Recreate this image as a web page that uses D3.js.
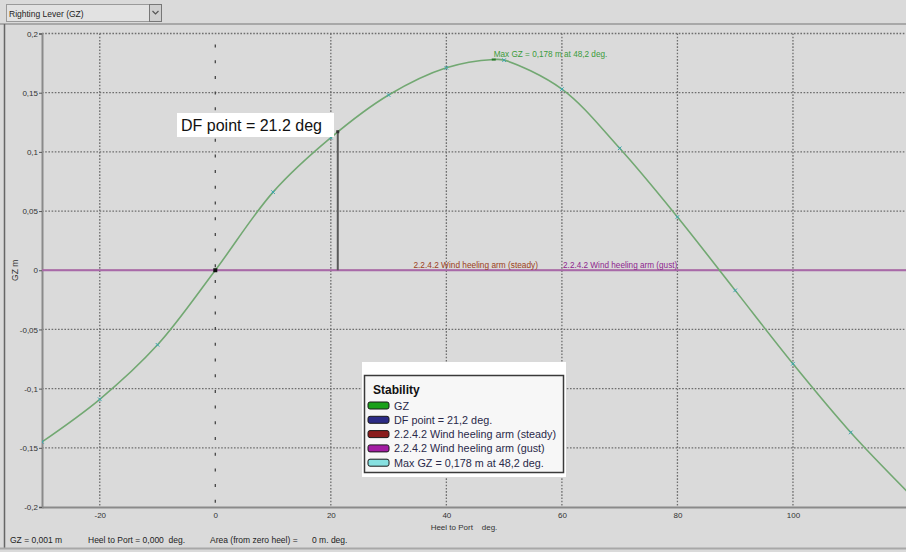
<!DOCTYPE html>
<html>
<head>
<meta charset="utf-8">
<script src="https://cdn.jsdelivr.net/npm/d3@7"></script>
<style>
    html, body { margin: 0; padding: 0; background: #dadada; }
    svg { display: block; }
    text { font-family: "Liberation Sans", Arial, sans-serif; }
</style>
</head>
<body>
<svg id="chart" width="906" height="552"></svg>
<script>
// heel angle (deg) and righting lever GZ (m)
const heel = [-30, -20, -10, 0, 10, 20, 30, 40, 50, 60, 70, 80, 90, 100, 110, 120];
const gz = [-0.145, -0.109, -0.063, 0, 0.066, 0.112, 0.148, 0.171, 0.1775, 0.153, 0.103, 0.045, -0.017, -0.079, -0.137, -0.188];

const maxGz = [48.2, 0.178];
const dfPoint = [21.2, 0.117];
const windSteady = 0;
const windGust = 0;

const xTicks = [-20, 0, 20, 40, 60, 80, 100];
const yTicks = [-0.2, -0.15, -0.1, -0.05, 0, 0.05, 0.1, 0.15, 0.2];

const legendNames = ["GZ", "DF point = 21,2 deg.", "2.2.4.2 Wind heeling arm (steady)", "2.2.4.2 Wind heeling arm (gust)", "Max GZ = 0,178 m at 48,2 deg."];
const legendColors = ["#1aa01a", "#2b2a85", "#8a1c1c", "#a21ca2", "#86e0e0"];

const statusTexts = [
    ["GZ = 0,001 m", 10],
    ["Heel to Port = 0,000  deg.", 88],
    ["Area (from zero heel) =", 210],
    ["0 m. deg.", 312]
];

const svg = d3.select("#chart");

const x = d3.scaleLinear().domain([-30, 120]).range([42, 908.5]);
const y = d3.scaleLinear().domain([-0.2, 0.2]).range([507, 33.5]);

function commaFmt(v) {
    return String(+v.toFixed(3)).replace(".", ",");
}

// window chrome
svg.append("rect").attr("width", 906).attr("height", 552).attr("fill", "#dadada");
svg.append("line").attr("x1", 0).attr("x2", 906).attr("y1", 24).attr("y2", 24)
    .attr("stroke", "#a8a8a8").attr("stroke-width", 2);
svg.append("line").attr("x1", 4.5).attr("x2", 4.5).attr("y1", 24).attr("y2", 549)
    .attr("stroke", "#666").attr("stroke-width", 1.5);
svg.append("line").attr("x1", 0).attr("x2", 906).attr("y1", 548.5).attr("y2", 548.5)
    .attr("stroke", "#a8a8a8").attr("stroke-width", 2);

// dropdown
svg.append("rect").attr("x", 6.5).attr("y", 4.5).attr("width", 143).attr("height", 17)
    .attr("fill", "#e2e2e2").attr("stroke", "#9a9a9a");
svg.append("text").attr("x", 9).attr("y", 16.5).attr("font-size", 8.5).attr("fill", "#222")
    .text("Righting Lever (GZ)");
svg.append("rect").attr("x", 149.5).attr("y", 4.5).attr("width", 12).attr("height", 17)
    .attr("fill", "#cfcfcf").attr("stroke", "#777");
svg.append("path").attr("d", "M152.5,11 L155.5,14 L158.5,11").attr("fill", "none")
    .attr("stroke", "#555").attr("stroke-width", 1.2);

// grid
const grid = svg.append("g");
grid.selectAll(".hgrid")
    .data(yTicks.filter(d => d !== 0 && d !== -0.2))
    .join("line")
    .attr("x1", x(-30)).attr("x2", 906)
    .attr("y1", d => y(d)).attr("y2", d => y(d))
    .attr("stroke", "#6e6e6e").attr("stroke-width", 1.3).attr("stroke-dasharray", "1.6,1.6");
grid.selectAll(".vgrid")
    .data(xTicks.filter(d => d !== 0))
    .join("line")
    .attr("x1", d => x(d)).attr("x2", d => x(d))
    .attr("y1", y(0.2)).attr("y2", y(-0.2))
    .attr("stroke", "#6e6e6e").attr("stroke-width", 1.3).attr("stroke-dasharray", "1.6,1.6");
grid.append("line")
    .attr("x1", x(0)).attr("x2", x(0))
    .attr("y1", y(0.2) + 11).attr("y2", y(-0.2))
    .attr("stroke", "#444").attr("stroke-width", 1.3).attr("stroke-dasharray", "3,12.7");

// axes
const yAxis = svg.append("g")
    .attr("transform", `translate(${x(-30)},0)`)
    .call(d3.axisLeft(y).tickValues(yTicks).tickSize(3).tickPadding(1).tickFormat(commaFmt));
const xAxis = svg.append("g")
    .attr("transform", `translate(0,${y(-0.2)})`)
    .call(d3.axisBottom(x).tickValues(xTicks).tickSize(0).tickPadding(5).tickFormat(d => d));

[yAxis, xAxis].forEach(a => {
    a.select(".domain").attr("stroke", "#8a8a8a").attr("stroke-width", 2);
    a.selectAll("text").attr("font-family", "Liberation Sans, sans-serif")
        .attr("font-size", 8).attr("fill", "#333");
    a.selectAll(".tick line").attr("stroke", "#555");
});

svg.append("text")
    .attr("transform", `translate(18,${y(0)}) rotate(-90)`)
    .attr("text-anchor", "middle").attr("font-size", 8.5).attr("fill", "#333")
    .text("GZ  m");
svg.append("text")
    .attr("x", 464).attr("y", 530).attr("text-anchor", "middle")
    .attr("font-size", 8).attr("fill", "#333")
    .attr("xml:space", "preserve")
    .text("Heel to Port    deg.");

// plot content
const plot = svg.append("g");
svg.append("clipPath").attr("id", "clip")
    .append("rect").attr("x", x(-30)).attr("y", 28).attr("width", 906 - x(-30)).attr("height", 482);
plot.attr("clip-path", "url(#clip)");

// wind heeling arms
plot.append("line")
    .attr("x1", x(-30)).attr("x2", 906)
    .attr("y1", y(windSteady)).attr("y2", y(windSteady))
    .attr("stroke", "#8a3a5a").attr("stroke-width", 1.2);
plot.append("line")
    .attr("x1", x(-30)).attr("x2", 906)
    .attr("y1", y(windGust)).attr("y2", y(windGust))
    .attr("stroke", "#a869a8").attr("stroke-width", 2);

plot.append("text")
    .attr("x", x(34.3)).attr("y", y(windSteady) - 2.5)
    .attr("font-size", 8.3).attr("fill", "#9a4020")
    .text("2.2.4.2 Wind heeling arm (steady)");
plot.append("text")
    .attr("x", x(60.2)).attr("y", y(windGust) - 2.5)
    .attr("font-size", 8.2).attr("fill", "#8e1f8e")
    .text("2.2.4.2 Wind heeling arm (gust)");

// DF point vertical
plot.append("line")
    .attr("x1", x(dfPoint[0])).attr("x2", x(dfPoint[0]))
    .attr("y1", y(0)).attr("y2", y(dfPoint[1]))
    .attr("stroke", "#5a5a5a").attr("stroke-width", 2);

// GZ curve
const curveData = heel.map((h, i) => [h, gz[i]]).concat([maxGz]).sort((a, b) => a[0] - b[0]);
const line = d3.line()
    .x(d => x(d[0]))
    .y(d => y(d[1]))
    .curve(d3.curveCatmullRom.alpha(0.5));
plot.append("path")
    .datum(curveData)
    .attr("fill", "none")
    .attr("stroke", "#72a872")
    .attr("stroke-width", 1.6)
    .attr("d", line);

// point markers
plot.selectAll(".mk")
    .data(heel.map((h, i) => [h, gz[i]]).filter(d => d[0] !== 0))
    .join("path")
    .attr("transform", d => `translate(${x(d[0])},${y(d[1])})`)
    .attr("d", "M-1.8,-1.8L1.8,1.8M-1.8,1.8L1.8,-1.8")
    .attr("stroke", "#3aa6b0").attr("stroke-width", 1);
plot.append("rect")
    .attr("x", x(0) - 2).attr("y", y(0) - 2).attr("width", 4).attr("height", 4)
    .attr("fill", "#111");
plot.append("rect")
    .attr("x", x(dfPoint[0]) - 1.5).attr("y", y(dfPoint[1]) - 1.5).attr("width", 3).attr("height", 3)
    .attr("fill", "#333");
plot.append("path")
    .attr("transform", `translate(${x(maxGz[0])},${y(maxGz[1])})`)
    .attr("d", "M-2,0L2,0")
    .attr("stroke", "#2a7a2a").attr("stroke-width", 2);

plot.append("text")
    .attr("x", x(maxGz[0])).attr("y", y(maxGz[1]) - 3)
    .attr("font-size", 8.2).attr("fill", "#3a9a3a")
    .text(`Max GZ = ${commaFmt(maxGz[1])} m at ${commaFmt(maxGz[0])} deg.`);

// DF annotation box
const ann = svg.append("g").attr("transform", "translate(177,113)");
ann.append("rect").attr("width", 157).attr("height", 24).attr("fill", "#fff");
ann.append("text").attr("x", 4).attr("y", 18)
    .attr("font-family", "Lato, 'Open Sans', sans-serif")
    .attr("font-size", 16).attr("fill", "#111")
    .text(`DF point = ${dfPoint[0]} deg`);

// legend
const legend = svg.append("g").attr("transform", "translate(362,362)");
legend.append("rect").attr("width", 204).attr("height", 115).attr("fill", "#fff");
legend.append("rect").attr("x", 2.5).attr("y", 13.5).attr("width", 199).attr("height", 97)
    .attr("fill", "#f7f7f7").attr("stroke", "#3a3a3a").attr("stroke-width", 1.5);
legend.append("text").attr("x", 11).attr("y", 32)
    .attr("font-size", 12).attr("font-weight", "bold").attr("fill", "#111")
    .text("Stability");
const items = legend.selectAll(".item")
    .data(legendNames)
    .join("g")
    .attr("transform", (d, i) => `translate(6,${40 + i * 14.3})`);
items.append("rect")
    .attr("width", 21).attr("height", 7).attr("rx", 2)
    .attr("fill", (d, i) => legendColors[i])
    .attr("stroke", "#1a1a1a").attr("stroke-width", 1);
items.append("text")
    .attr("x", 26).attr("y", 7.5)
    .attr("font-size", 10.8).attr("fill", "#2a2a4a")
    .text(d => d);

// status bar
svg.selectAll(".status")
    .data(statusTexts)
    .join("text")
    .attr("x", d => d[1]).attr("y", 543)
    .attr("font-size", 8.5).attr("fill", "#222")
    .attr("xml:space", "preserve")
    .text(d => d[0]);
</script>
</body>
</html>
